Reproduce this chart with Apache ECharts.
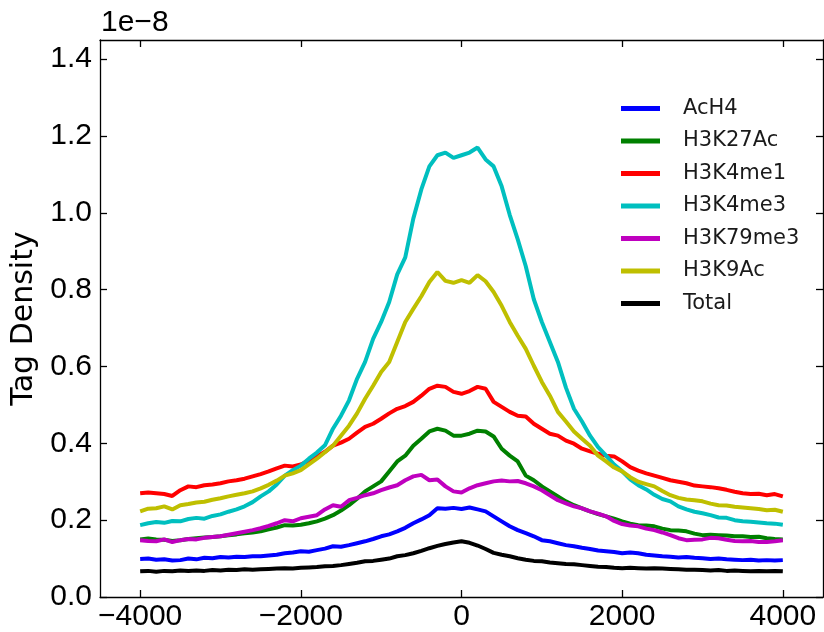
<!DOCTYPE html>
<html>
<head>
<meta charset="utf-8">
<script src="https://cdn.jsdelivr.net/npm/echarts@6/dist/echarts.min.js"></script>
<style>html,body{margin:0;padding:0;background:#fff}#c{width:824px;height:632px}</style>
</head>
<body>
<div id="c"></div>
<script>
// x positions (bp from center)
var positions = [-4000,-3900,-3800,-3700,-3600,-3500,-3400,-3300,-3200,-3100,
  -3000,-2900,-2800,-2700,-2600,-2500,-2400,-2300,-2200,-2100,
  -2000,-1900,-1800,-1700,-1600,-1500,-1400,-1300,-1200,-1100,
  -1000,-900,-800,-700,-600,-500,-400,-300,-200,-100,
  0,100,200,300,400,500,600,700,800,900,
  1000,1100,1200,1300,1400,1500,1600,1700,1800,1900,
  2000,2100,2200,2300,2400,2500,2600,2700,2800,2900,
  3000,3100,3200,3300,3400,3500,3600,3700,3800,3900,4000];

// values in units of 1e-8
var AcH4 = [0.099,0.100,0.097,0.098,0.095,0.096,0.100,0.098,0.102,0.101,
  0.104,0.103,0.105,0.104,0.106,0.106,0.108,0.110,0.114,0.116,
  0.119,0.118,0.122,0.126,0.132,0.131,0.135,0.140,0.145,0.151,
  0.158,0.163,0.171,0.180,0.192,0.202,0.213,0.231,0.230,0.232,
  0.229,0.233,0.228,0.223,0.210,0.197,0.184,0.174,0.166,0.158,
  0.148,0.145,0.140,0.135,0.132,0.128,0.125,0.121,0.119,0.117,
  0.114,0.116,0.114,0.110,0.108,0.106,0.105,0.103,0.104,0.102,
  0.101,0.099,0.100,0.098,0.097,0.096,0.097,0.095,0.096,0.095,0.096];

var H3K27Ac = [0.150,0.152,0.150,0.149,0.146,0.148,0.151,0.153,0.155,0.156,
  0.158,0.161,0.163,0.166,0.168,0.171,0.176,0.181,0.187,0.186,
  0.188,0.192,0.197,0.204,0.213,0.225,0.239,0.256,0.275,0.288,
  0.301,0.327,0.353,0.368,0.394,0.412,0.431,0.438,0.433,0.420,
  0.420,0.425,0.433,0.431,0.418,0.386,0.368,0.353,0.316,0.304,
  0.288,0.275,0.262,0.249,0.239,0.231,0.223,0.216,0.210,0.204,
  0.197,0.191,0.187,0.186,0.184,0.178,0.174,0.173,0.171,0.165,
  0.161,0.162,0.161,0.160,0.158,0.158,0.156,0.157,0.153,0.151,0.150];

var H3K4me1 = [0.270,0.272,0.270,0.268,0.263,0.278,0.288,0.286,0.291,0.293,
  0.296,0.301,0.304,0.308,0.314,0.320,0.327,0.335,0.342,0.340,
  0.345,0.355,0.366,0.378,0.394,0.402,0.412,0.428,0.443,0.451,
  0.464,0.478,0.490,0.497,0.508,0.524,0.542,0.550,0.547,0.534,
  0.529,0.536,0.547,0.542,0.508,0.495,0.482,0.472,0.470,0.451,
  0.438,0.425,0.420,0.407,0.399,0.386,0.379,0.373,0.368,0.366,
  0.353,0.338,0.329,0.322,0.316,0.310,0.304,0.300,0.296,0.290,
  0.288,0.286,0.283,0.279,0.274,0.270,0.268,0.269,0.265,0.268,0.262];

var H3K4me3 = [0.187,0.192,0.195,0.193,0.198,0.197,0.203,0.206,0.204,0.211,
  0.215,0.222,0.228,0.236,0.247,0.262,0.275,0.293,0.316,0.330,
  0.342,0.360,0.376,0.395,0.438,0.472,0.512,0.568,0.612,0.672,
  0.716,0.768,0.840,0.884,0.985,1.061,1.121,1.150,1.157,1.143,
  1.150,1.157,1.170,1.139,1.121,1.069,0.995,0.931,0.861,0.775,
  0.716,0.664,0.612,0.545,0.490,0.457,0.420,0.390,0.368,0.345,
  0.327,0.306,0.291,0.280,0.266,0.255,0.249,0.236,0.228,0.222,
  0.218,0.213,0.207,0.206,0.200,0.197,0.196,0.194,0.192,0.191,0.188];

var H3K79me3 = [0.148,0.146,0.145,0.150,0.143,0.148,0.151,0.150,0.154,0.156,
  0.158,0.162,0.166,0.170,0.174,0.179,0.185,0.192,0.200,0.197,
  0.205,0.209,0.213,0.228,0.239,0.235,0.252,0.258,0.265,0.270,
  0.278,0.285,0.291,0.304,0.314,0.318,0.304,0.306,0.288,0.275,
  0.272,0.283,0.291,0.296,0.301,0.303,0.301,0.302,0.296,0.288,
  0.278,0.265,0.252,0.244,0.236,0.231,0.223,0.217,0.210,0.198,
  0.190,0.186,0.184,0.178,0.174,0.168,0.161,0.153,0.148,0.149,
  0.150,0.154,0.153,0.149,0.146,0.145,0.146,0.143,0.143,0.145,0.148];

var H3K9Ac = [0.223,0.230,0.231,0.236,0.228,0.239,0.242,0.246,0.248,0.253,
  0.257,0.262,0.266,0.270,0.275,0.283,0.292,0.303,0.316,0.322,
  0.330,0.345,0.360,0.377,0.394,0.420,0.446,0.478,0.516,0.550,
  0.586,0.612,0.664,0.716,0.750,0.783,0.820,0.846,0.823,0.818,
  0.825,0.818,0.838,0.822,0.794,0.758,0.716,0.680,0.646,0.602,
  0.560,0.524,0.482,0.457,0.431,0.412,0.394,0.368,0.353,0.337,
  0.327,0.312,0.300,0.294,0.288,0.276,0.265,0.258,0.254,0.252,
  0.249,0.243,0.239,0.238,0.235,0.233,0.231,0.229,0.226,0.227,0.222];

var Total = [0.067,0.068,0.066,0.068,0.067,0.069,0.068,0.069,0.068,0.070,
  0.069,0.071,0.070,0.072,0.071,0.072,0.073,0.074,0.075,0.074,
  0.076,0.077,0.078,0.080,0.081,0.083,0.086,0.089,0.093,0.094,
  0.097,0.100,0.106,0.109,0.114,0.120,0.127,0.133,0.138,0.142,
  0.145,0.141,0.134,0.125,0.115,0.110,0.106,0.101,0.097,0.094,
  0.093,0.090,0.088,0.086,0.085,0.083,0.081,0.079,0.078,0.076,
  0.075,0.076,0.075,0.074,0.075,0.074,0.073,0.072,0.071,0.071,
  0.070,0.069,0.070,0.068,0.069,0.068,0.067,0.068,0.067,0.068,0.067];

var seriesNames = ['AcH4','H3K27Ac','H3K4me1','H3K4me3','H3K79me3','H3K9Ac','Total'];
var seriesValues = [AcH4, H3K27Ac, H3K4me1, H3K4me3, H3K79me3, H3K9Ac, Total];
var seriesColors = ['#0000ff','#008000','#ff0000','#00bfbf','#bf00bf','#bfbf00','#000000'];

var xTicks = [-4000,-2000,0,2000,4000];
var yTicks = [0,0.2,0.4,0.6,0.8,1.0,1.2,1.4];

var tickFont = 'Liberation Sans';
function xFmt(v){ return v < 0 ? '\u2212' + Math.abs(v) : String(v); }
function yFmt(v){ return Number(v).toFixed(1); }

var axisLineStyle = {color:'#000', width:1.3};
var series = seriesNames.map(function(n,i){
  return {
    name:n, type:'line', xAxisIndex:0, yAxisIndex:0,
    showSymbol:false, symbol:'none',
    lineStyle:{width:4, color:seriesColors[i]},
    itemStyle:{color:seriesColors[i]},
    data: positions.map(function(x,j){ return [x, seriesValues[i][j]]; }),
    z: 2 + i
  };
});

var chart = echarts.init(document.getElementById('c'), null, {renderer:'canvas'});
chart.setOption({
  animation:false,
  backgroundColor:'#ffffff',
  grid:{left:100, right:1, top:40, bottom:33, containLabel:false},
  xAxis:[{
    type:'value', min:-4500, max:4500, position:'bottom',
    axisLine:{show:true, onZero:false, lineStyle:axisLineStyle},
    axisTick:{show:true, inside:true, length:7, customValues:xTicks, lineStyle:{color:'#000', width:1.3}},
    axisLabel:{show:true, customValues:xTicks, formatter:xFmt, margin:5, color:'#000', fontSize:30, fontFamily:tickFont},
    splitLine:{show:false}
  },{
    type:'value', min:-4500, max:4500, position:'top',
    axisLine:{show:true, onZero:false, lineStyle:axisLineStyle},
    axisTick:{show:true, inside:true, length:7, customValues:xTicks, lineStyle:{color:'#000', width:1.3}},
    axisLabel:{show:false},
    splitLine:{show:false}
  }],
  yAxis:[{
    type:'value', min:0, max:1.45, position:'left',
    name:'Tag Density', nameLocation:'middle', nameGap:60,
    nameTextStyle:{fontFamily:'DejaVu Sans', fontSize:30, color:'#000'},
    axisLine:{show:true, onZero:false, lineStyle:axisLineStyle},
    axisTick:{show:true, inside:true, length:7, customValues:yTicks, lineStyle:{color:'#000', width:1.3}},
    axisLabel:{show:true, customValues:yTicks, formatter:yFmt, margin:8, color:'#000', fontSize:30, fontFamily:tickFont},
    splitLine:{show:false}
  },{
    type:'value', min:0, max:1.45, position:'right',
    axisLine:{show:true, onZero:false, lineStyle:axisLineStyle},
    axisTick:{show:true, inside:true, length:7, customValues:yTicks, lineStyle:{color:'#000', width:1.3}},
    axisLabel:{show:false},
    splitLine:{show:false}
  }],
  legend:{
    orient:'vertical', left:621, top:98, padding:0,
    icon:'rect', itemWidth:39, itemHeight:5, itemGap:11.5,
    data:seriesNames,
    textStyle:{fontFamily:'DejaVu Sans', fontSize:21, color:'#1a1a1a', padding:[0,0,0,18]}
  },
  graphic:[{
    type:'text', left:101, top:8,
    style:{text:'1e\u22128', font:'30px "Liberation Sans"', fill:'#000'}
  }],
  series:series
});
</script>
</body>
</html>
